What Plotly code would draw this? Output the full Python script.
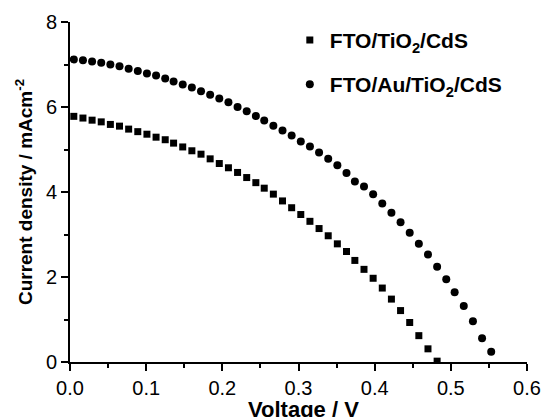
import plotly.graph_objects as go

# Voltage (V)
voltage_tio2 = [0.005, 0.017, 0.029, 0.041, 0.053, 0.065, 0.077, 0.089, 0.101, 0.113,
                0.125, 0.136, 0.148, 0.160, 0.172, 0.184, 0.196, 0.208, 0.220, 0.232,
                0.244, 0.255, 0.267, 0.279, 0.291, 0.303, 0.315, 0.327, 0.339, 0.351,
                0.363, 0.374, 0.386, 0.398, 0.410, 0.422, 0.434, 0.446, 0.458, 0.470,
                0.482]
current_tio2 = [5.78, 5.74, 5.69, 5.65, 5.59, 5.55, 5.48, 5.42, 5.36, 5.29,
                5.23, 5.15, 5.06, 4.97, 4.89, 4.78, 4.67, 4.57, 4.46, 4.34,
                4.22, 4.09, 3.95, 3.79, 3.63, 3.47, 3.31, 3.14, 2.97, 2.78,
                2.60, 2.39, 2.18, 1.97, 1.74, 1.48, 1.21, 0.93, 0.62, 0.31,
                0.02]

voltage_au = [0.005, 0.017, 0.029, 0.041, 0.053, 0.065, 0.077, 0.089, 0.101, 0.113,
              0.125, 0.136, 0.148, 0.160, 0.172, 0.184, 0.196, 0.208, 0.220, 0.232,
              0.244, 0.255, 0.267, 0.279, 0.291, 0.303, 0.315, 0.327, 0.339, 0.351,
              0.363, 0.374, 0.386, 0.398, 0.410, 0.422, 0.434, 0.446, 0.458, 0.470,
              0.482, 0.494, 0.505, 0.517, 0.529, 0.541, 0.553]
current_au = [7.12, 7.10, 7.07, 7.04, 7.00, 6.96, 6.90, 6.85, 6.79, 6.74,
              6.67, 6.60, 6.53, 6.46, 6.37, 6.29, 6.20, 6.11, 6.00, 5.90,
              5.79, 5.68, 5.56, 5.45, 5.33, 5.19, 5.07, 4.93, 4.78, 4.63,
              4.45, 4.25, 4.13, 3.95, 3.73, 3.51, 3.29, 3.04, 2.78, 2.53,
              2.24, 1.95, 1.64, 1.32, 0.96, 0.56, 0.24]

x_ticks = [0.0, 0.1, 0.2, 0.3, 0.4, 0.5, 0.6]
x_tick_labels = ["0.0", "0.1", "0.2", "0.3", "0.4", "0.5", "0.6"]
y_ticks = [0, 2, 4, 6, 8]

x_title = "<b>Voltage / V</b>"
y_title = "<b>Current density / mAcm<sup>-2</sup></b>"

font_family = "Liberation Sans, Arial, sans-serif"

fig = go.Figure()
fig.add_trace(go.Scatter(
    x=voltage_tio2, y=current_tio2, mode="markers",
    name="<b>FTO/TiO<sub>2</sub>/CdS</b>", legendgroup="a",
    marker=dict(symbol="square", size=7, color="black"),
))
fig.add_trace(go.Scatter(
    x=voltage_au, y=current_au, mode="markers",
    name="<b>FTO/Au/TiO<sub>2</sub>/CdS</b>", legendgroup="b",
    marker=dict(symbol="circle", size=8, color="black"),
))

axis_common = dict(
    showline=True, linecolor="black", linewidth=2,
    ticks="outside", ticklen=7, tickwidth=2, tickcolor="black",
    showgrid=False, zeroline=False, mirror=False,
    tickfont=dict(family=font_family, size=20, color="black"),
)

fig.update_xaxes(
    range=[0, 0.6], tickvals=x_ticks, ticktext=x_tick_labels,
    minor=dict(dtick=0.05, ticks="outside", ticklen=4, tickwidth=2, tickcolor="black"),
    **axis_common,
)
fig.update_yaxes(
    range=[0, 8], tickvals=y_ticks,
    minor=dict(dtick=1, ticks="outside", ticklen=4, tickwidth=2, tickcolor="black"),
    title=dict(text=y_title, standoff=8,
               font=dict(family=font_family, size=19, color="black")),
    **axis_common,
)

# x-axis title placed as a paper-referenced annotation (sits partly below the page edge, as in the original)
fig.add_annotation(
    text=x_title, xref="paper", yref="paper", x=0.51, y=-0.097,
    xanchor="center", yanchor="top", showarrow=False,
    font=dict(family=font_family, size=22, color="black"),
)

fig.update_layout(
    width=542, height=417,
    margin=dict(l=70, r=15, t=22, b=55, autoexpand=False),
    plot_bgcolor="white", paper_bgcolor="white",
    showlegend=True,
    legend=dict(
        x=0.481, y=1.0065, xanchor="left", yanchor="top",
        bgcolor="rgba(0,0,0,0)", borderwidth=0,
        font=dict(family=font_family, size=21, color="black"),
        tracegroupgap=14, itemwidth=30,
    ),
)

fig.write_html("out.html", config={"displayModeBar": False},
               post_script="document.body.style.margin='0px';")
